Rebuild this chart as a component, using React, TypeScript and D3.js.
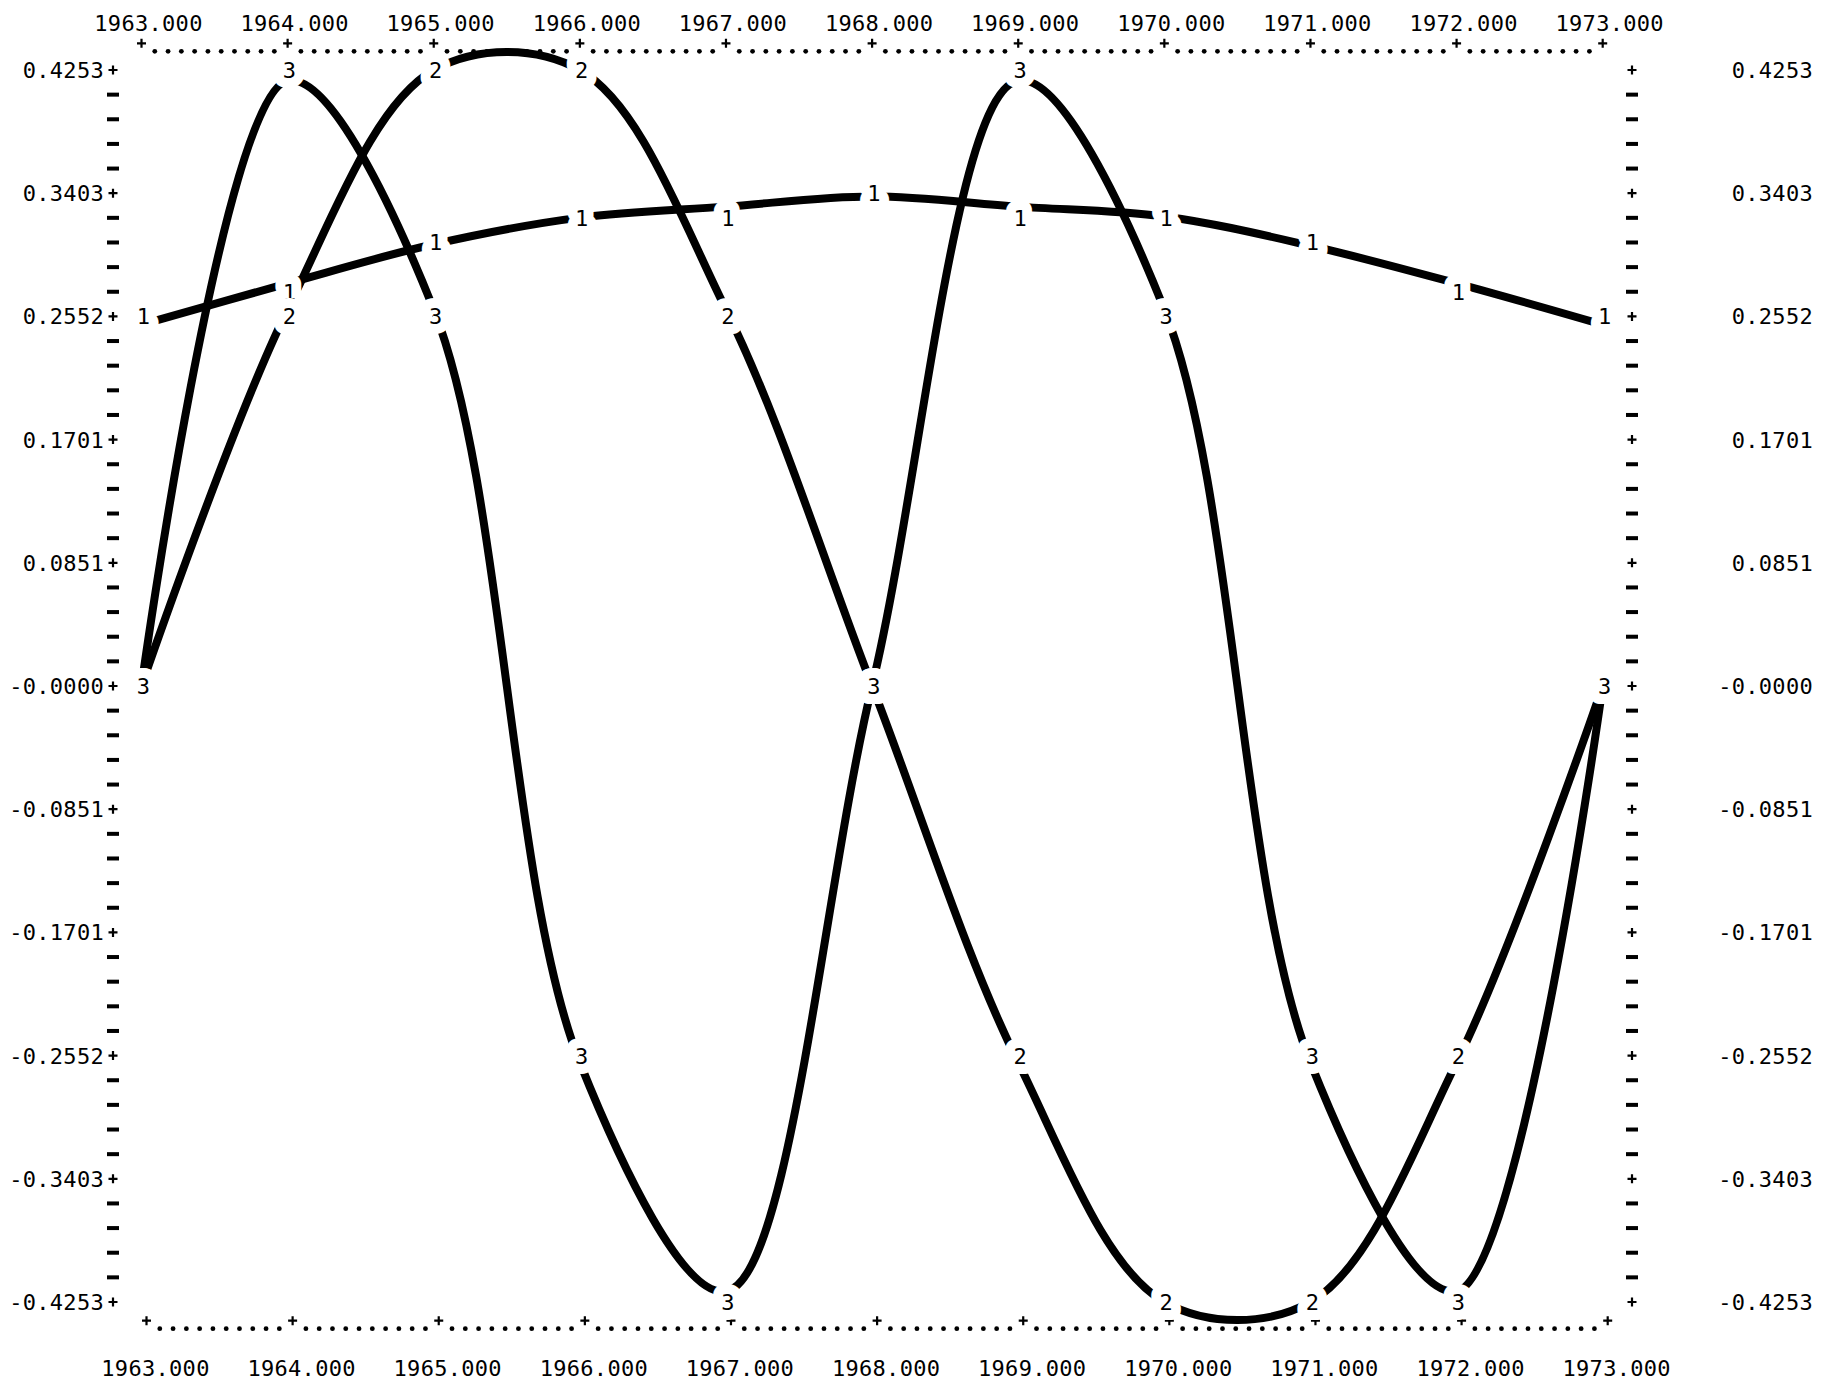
import React, { useEffect, useRef } from 'react';
import * as d3 from 'd3';

// years plotted (one printer column each)
const years = [1963, 1964, 1965, 1966, 1967, 1968, 1969, 1970, 1971, 1972, 1973];

// values, series 1..3
const series1 = [0.2495, 0.278, 0.305, 0.3234, 0.331, 0.338, 0.331, 0.3242, 0.304, 0.278, 0.2495];
const series2 = [0, 0.26, 0.4253, 0.4253, 0.26, 0, -0.26, -0.4253, -0.4253, -0.26, 0];
const series3 = [0, 0.418, 0.26, -0.26, -0.418, 0, 0.418, 0.26, -0.26, -0.418, 0];

const xTickLabels = ['1963.000', '1964.000', '1965.000', '1966.000', '1967.000', '1968.000', '1969.000', '1970.000', '1971.000', '1972.000', '1973.000'];
const yTickLabels = ['0.4253', '0.3403', '0.2552', '0.1701', '0.0851', '-0.0000', '-0.0851', '-0.1701', '-0.2552', '-0.3403', '-0.4253'];

const yMax = 0.42533;
const rowsPerMajor = 5;

const App = () => {
  const svgRef = useRef(null);

  useEffect(() => {
    document.body.style.margin = '0';
    const width = 1833;
    const height = 1384;
    const font = '"DejaVu Sans Mono", "Liberation Mono", monospace';

    const svg = d3.select(svgRef.current);
    svg.selectAll('*').remove();
    svg.attr('width', width).attr('height', height);

    svg.append('rect').attr('width', width).attr('height', height).attr('fill', '#fff');

    const x = d3.scaleLinear().domain([years[0], years[years.length - 1]]).range([141.5, 1602.7]);
    const y = d3.scaleLinear().domain([yMax, -yMax]).range([70, 1302]);

    const nRows = (yTickLabels.length - 1) * rowsPerMajor;
    const rowStep = (2 * yMax) / nRows;
    const rowPx = y(0) - y(rowStep);
    const rows = d3.range(nRows + 1).map(i => yMax - i * rowStep);
    const quantize = v => Math.round(v / rowStep) * rowStep;

    const g = svg.append('g');

    const textStyle = sel => sel
      .style('font-family', font)
      .style('font-size', '22px')
      .style('letter-spacing', '0.3px');

    // printer style '+' mark
    const plus = (sel, cx, cy) => {
      sel.append('path')
        .attr('d', `M${cx - 4.5},${cy}H${cx + 4.5}M${cx},${cy - 4.5}V${cy + 4.5}`)
        .attr('stroke', '#000')
        .attr('stroke-width', 2.2);
    };

    // vertical axes (left and right)
    [113, 1632].forEach(ax => {
      rows.forEach((v, i) => {
        if (i % rowsPerMajor === 0) {
          plus(g, ax, y(v));
        } else {
          g.append('rect')
            .attr('x', ax - 6)
            .attr('y', y(v) - 2)
            .attr('width', 12)
            .attr('height', 4)
            .attr('fill', '#000');
        }
      });
    });

    // left labels
    g.selectAll('text.yl')
      .data(yTickLabels)
      .enter().append('text')
      .attr('class', 'yl')
      .attr('x', 104)
      .attr('y', (d, i) => y(rows[i * rowsPerMajor]) + 8)
      .attr('text-anchor', 'end')
      .call(textStyle)
      .text(d => d);

    // right labels
    g.selectAll('text.yr')
      .data(yTickLabels)
      .enter().append('text')
      .attr('class', 'yr')
      .attr('x', 1813)
      .attr('y', (d, i) => y(rows[i * rowsPerMajor]) + 8)
      .attr('text-anchor', 'end')
      .call(textStyle)
      .text(d => d);

    // dotted horizontal borders, bottom one a little skewed like the paper
    const border = (rowY, shift) => {
      years.forEach((yr, i) => {
        const px = x(yr) + shift;
        plus(g, px, rowY - 8);
        if (i < years.length - 1) {
          const step = (x(years[i + 1]) - x(yr)) / 11;
          d3.range(1, 11).forEach(k => {
            g.append('circle')
              .attr('cx', px + k * step)
              .attr('cy', rowY)
              .attr('r', 2.4)
              .attr('fill', '#000');
          });
        }
      });
    };
    border(y(yMax) - rowPx + 6, 0);
    border(y(-yMax) + rowPx + 2, 5);

    // year labels top and bottom
    g.selectAll('text.xt')
      .data(xTickLabels)
      .enter().append('text')
      .attr('class', 'xt')
      .attr('x', (d, i) => x(years[i]) + 7)
      .attr('y', 31)
      .attr('text-anchor', 'middle')
      .call(textStyle)
      .text(d => d);

    g.selectAll('text.xb')
      .data(xTickLabels)
      .enter().append('text')
      .attr('class', 'xb')
      .attr('x', (d, i) => x(years[i]) + 14)
      .attr('y', 1376)
      .attr('text-anchor', 'middle')
      .call(textStyle)
      .text(d => d);

    // hand drawn curves through the printed points
    const line = d3.line()
      .x((d, i) => x(years[i]))
      .y(d => y(d))
      .curve(d3.curveCatmullRom.alpha(0.5));

    const allSeries = [series1, series2, series3];
    allSeries.forEach(s => {
      g.append('path')
        .datum(s)
        .attr('d', line)
        .attr('fill', 'none')
        .attr('stroke', '#000')
        .attr('stroke-width', 8)
        .attr('stroke-linecap', 'round');
    });

    // printed series digits (later series overprint earlier ones)
    allSeries.forEach((s, si) => {
      g.selectAll(`text.s${si}`)
        .data(s)
        .enter().append('text')
        .attr('class', `s${si}`)
        .attr('x', (d, i) => x(years[i]) + 2)
        .attr('y', d => y(quantize(d)) + 8)
        .attr('text-anchor', 'middle')
        .call(textStyle)
        .style('paint-order', 'stroke')
        .attr('stroke', '#fff')
        .attr('stroke-width', 20)
        .attr('stroke-linejoin', 'round')
        .attr('fill', '#000')
        .text(String(si + 1));
    });
  }, []);

  return <svg ref={svgRef} style={{ display: 'block' }}></svg>;
};

export default App;
